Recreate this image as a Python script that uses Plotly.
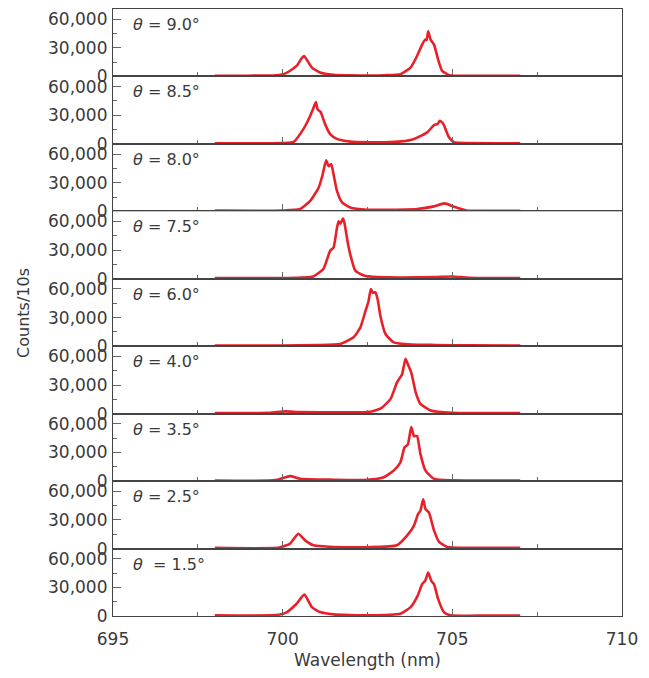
import plotly.graph_objects as go
from plotly.subplots import make_subplots

angles = ["9.0", "8.5", "8.0", "7.5", "6.0", "4.0", "3.5", "2.5", "1.5"]

wl_90 = [698.0, 699.0, 699.8, 700.1, 700.41, 700.55, 700.63, 700.72, 700.86, 701.1, 701.5, 702.0, 702.5, 703.0, 703.47, 703.77, 703.96, 704.11, 704.2, 704.24, 704.29, 704.36, 704.46, 704.58, 704.7, 704.9, 705.05, 706.0, 707.0]
c_90 = [700, 800, 1200, 3500, 11000, 18500, 21400, 17000, 9300, 4100, 1700, 1100, 1000, 1300, 2400, 9300, 21400, 33400, 38600, 38000, 47200, 38600, 33400, 17900, 5900, 1400, 700, 600, 600]

wl_85 = [698.0, 699.5, 700.0, 700.32, 700.61, 700.81, 700.91, 700.98, 701.03, 701.12, 701.25, 701.4, 701.6, 701.99, 702.5, 702.98, 703.5, 703.87, 704.26, 704.46, 704.56, 704.63, 704.7, 704.76, 704.9, 705.05, 705.5, 707.0]
c_85 = [700, 700, 900, 2000, 15500, 29300, 37900, 43800, 36200, 33400, 20700, 10300, 5200, 2400, 1700, 1700, 2600, 5200, 12100, 19700, 20700, 24100, 22500, 19000, 6900, 1700, 800, 700]

wl_80 = [698.0, 700.0, 700.51, 700.81, 701.06, 701.18, 701.28, 701.36, 701.43, 701.5, 701.6, 701.75, 701.99, 702.49, 703.0, 703.96, 704.46, 704.77, 705.05, 705.44, 706.0, 707.0]
c_80 = [700, 800, 2400, 11000, 24800, 38600, 53400, 47200, 49700, 38600, 21400, 9300, 4100, 1700, 1600, 2400, 5200, 8300, 4800, 700, 600, 600]

wl_75 = [698.0, 700.0, 700.9, 701.2, 701.4, 701.5, 701.6, 701.65, 701.7, 701.78, 701.82, 701.91, 701.99, 702.14, 702.39, 702.8, 703.5, 704.5, 705.0, 705.5, 707.0]
c_75 = [700, 800, 2400, 10300, 29300, 32800, 53400, 60300, 57600, 63100, 58600, 39700, 25900, 8600, 3400, 1700, 1400, 1800, 2400, 1000, 700]

wl_60 = [698.0, 700.0, 701.0, 701.7, 702.09, 702.29, 702.44, 702.53, 702.6, 702.66, 702.73, 702.8, 702.88, 703.03, 703.27, 703.8, 704.5, 705.5, 707.0]
c_60 = [700, 800, 1200, 2400, 9300, 19700, 36900, 47200, 60000, 55900, 56600, 49000, 31700, 12800, 4100, 1800, 1300, 900, 700]

wl_40 = [698.0, 699.6, 700.07, 700.5, 701.5, 702.5, 702.88, 703.18, 703.37, 703.52, 703.62, 703.69, 703.79, 703.92, 704.06, 704.36, 705.0, 706.0, 707.0]
c_40 = [700, 800, 2400, 1600, 1500, 1700, 5200, 15500, 32800, 41400, 57600, 51700, 43100, 22400, 10300, 3400, 1000, 700, 700]

wl_35 = [698.0, 699.8, 700.22, 700.51, 701.5, 702.5, 702.98, 703.27, 703.47, 703.59, 703.69, 703.79, 703.87, 703.96, 704.06, 704.21, 704.46, 705.0, 706.0, 707.0]
c_35 = [700, 1000, 5200, 2400, 1500, 1400, 4100, 11000, 19700, 35200, 38600, 56600, 47200, 47200, 28300, 11000, 2400, 900, 700, 700]

wl_25 = [698.0, 699.9, 700.22, 700.46, 700.66, 700.91, 701.5, 702.5, 703.37, 703.67, 703.87, 703.99, 704.06, 704.14, 704.21, 704.31, 704.46, 704.61, 704.85, 705.5, 707.0]
c_25 = [700, 1000, 5200, 15500, 8600, 3400, 1700, 1400, 3400, 13800, 24100, 36200, 39700, 51700, 41400, 37900, 19000, 6900, 1700, 800, 700]

wl_15 = [698.0, 699.8, 700.1, 700.41, 700.64, 700.86, 701.1, 701.5, 702.5, 703.47, 703.77, 703.98, 704.11, 704.2, 704.29, 704.38, 704.46, 704.58, 704.75, 704.95, 706.0, 707.0]
c_15 = [700, 900, 3500, 12800, 22400, 9300, 4100, 1700, 700, 2400, 9300, 21400, 33400, 36900, 45500, 36900, 33400, 17900, 4100, 700, 600, 600]

x_ticks = [695, 700, 705, 710]
x_minor = [697.5, 702.5, 707.5]
y_ticks = [0, 30000, 60000]
y_minor = [15000, 45000]

series = [(wl_90, c_90), (wl_85, c_85), (wl_80, c_80), (wl_75, c_75), (wl_60, c_60),
          (wl_40, c_40), (wl_35, c_35), (wl_25, c_25), (wl_15, c_15)]

n = len(series)
fig = make_subplots(rows=n, cols=1, shared_xaxes=True, vertical_spacing=0)

FONT = "DejaVu Sans"
TXT = "#3a3a3a"
RED = "#e8202a"

for i, (wl, c) in enumerate(series):
    r = i + 1
    fig.add_trace(go.Scatter(x=wl, y=c, mode="lines",
                             line=dict(color=RED, width=2.6, shape="spline", smoothing=0.5),
                             showlegend=False, hoverinfo="skip"), row=r, col=1)
    fig.update_yaxes(range=[0, 70700], tickvals=y_ticks, tickformat=",",
                     ticks="inside", ticklen=8, tickcolor="#666", tickwidth=1,
                     minor=dict(tickvals=y_minor, ticks="inside", ticklen=4, tickcolor="#666"),
                     showline=True, linecolor="#444", linewidth=1.2, mirror=True,
                     showgrid=False, zeroline=False,
                     tickfont=dict(family=FONT, size=17, color=TXT),
                     ticklabelstandoff=1,
                     row=r, col=1)
    fig.update_xaxes(range=[695, 710], tickvals=x_ticks,
                     ticks="inside", ticklen=7, tickcolor="#666", tickwidth=1,
                     minor=dict(tickvals=x_minor, ticks="inside", ticklen=4, tickcolor="#666"),
                     showline=True, linecolor="#444", linewidth=1.2, mirror=True,
                     showgrid=False, zeroline=False,
                     showticklabels=(r == n),
                     ticklabelstandoff=7,
                     tickfont=dict(family=FONT, size=17, color=TXT),
                     row=r, col=1)
    label = ("<i>θ</i>  = " if angles[i] == "1.5" else "<i>θ</i> = ") + angles[i] + "°"
    xref = "x domain" if r == 1 else f"x{r} domain"
    yref = "y domain" if r == 1 else f"y{r} domain"
    fig.add_annotation(text=label, xref=xref, yref=yref, x=0.036, y=0.77,
                       xanchor="left", yanchor="middle", showarrow=False,
                       font=dict(family=FONT, size=16, color=TXT))

fig.update_xaxes(title=dict(text="Wavelength (nm)", font=dict(family=FONT, size=17, color=TXT), standoff=9),
                 row=n, col=1)

fig.add_annotation(text="Counts/10s", xref="paper", yref="paper", x=-0.176, y=0.5,
                   textangle=-90, showarrow=False, xanchor="center", yanchor="middle",
                   font=dict(family=FONT, size=16, color=TXT))

# page body has an 8px default margin; size the figure so the plot area lands where the reference has it
fig.update_layout(width=633, height=662,
                  margin=dict(l=105, r=19, t=1, b=54),
                  plot_bgcolor="white", paper_bgcolor="white")

fig.write_html("out.html")
